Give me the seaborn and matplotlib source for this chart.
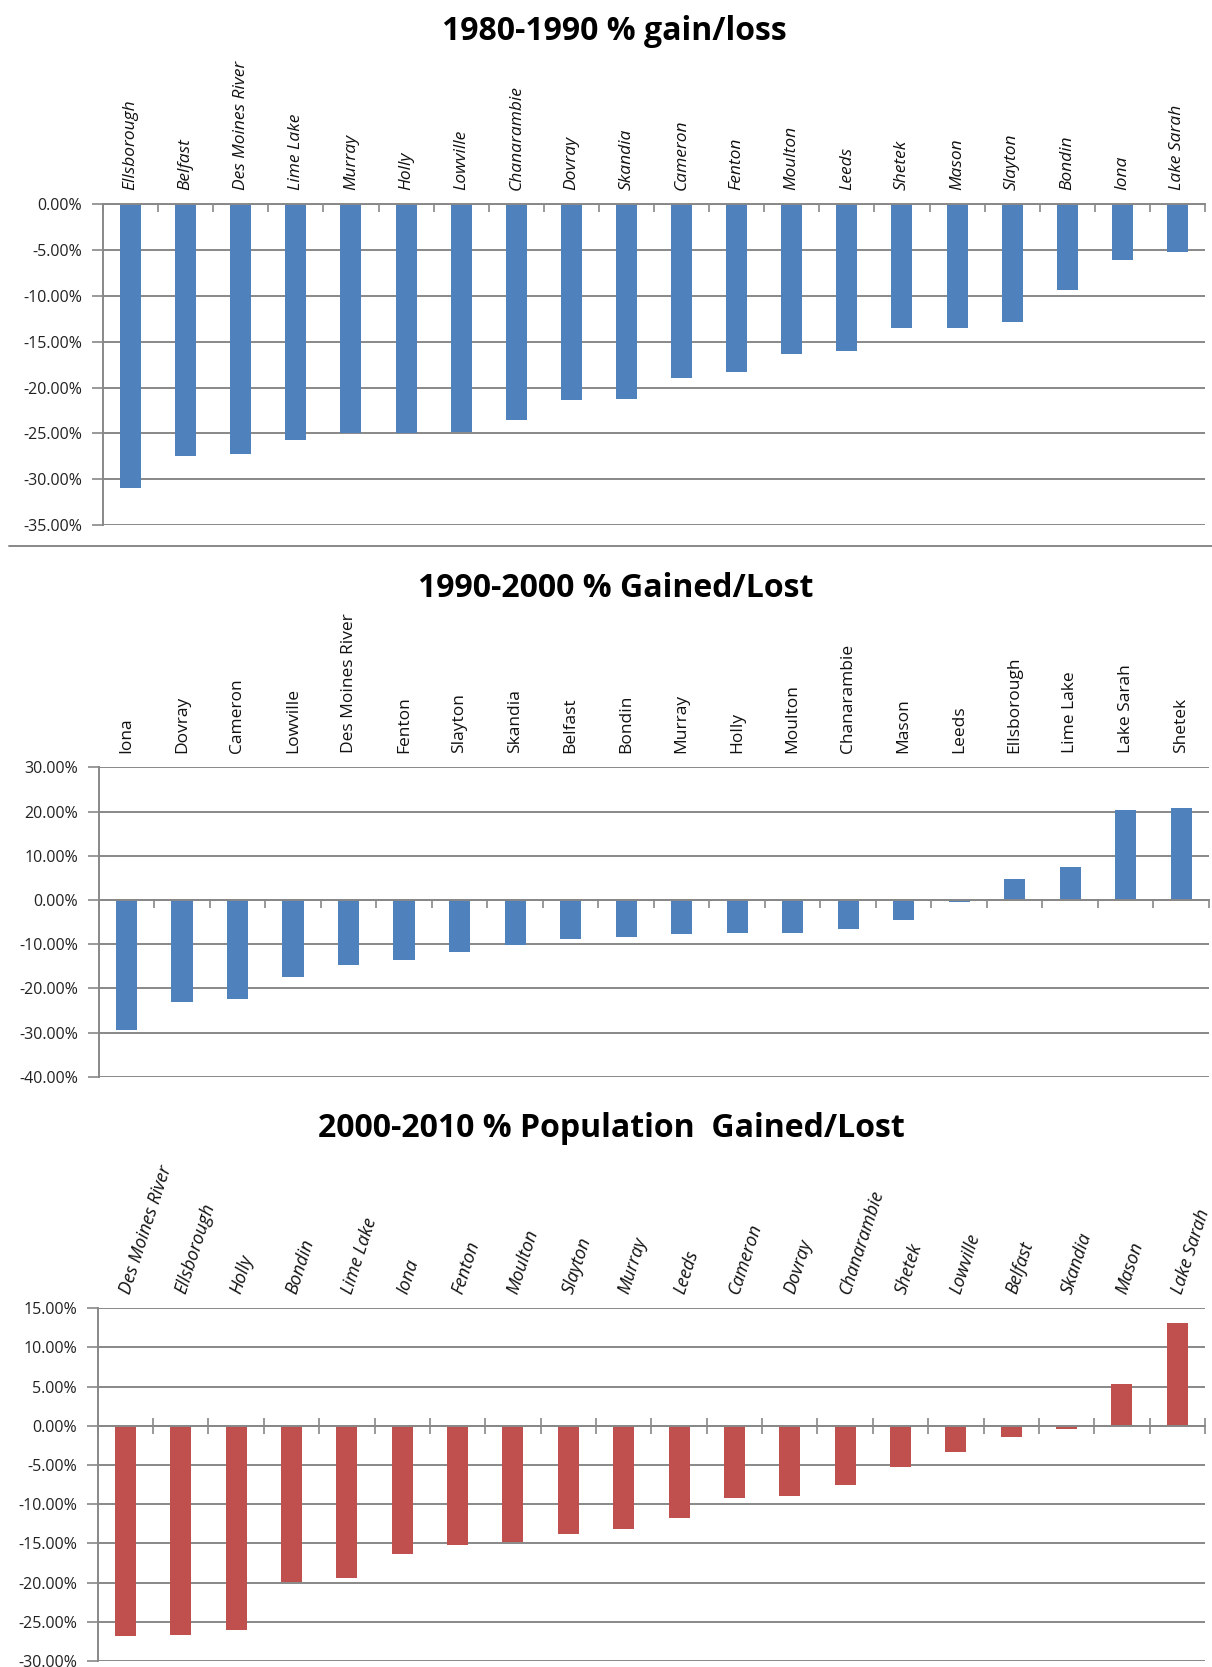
import numpy as np
import pandas as pd
import seaborn as sns
import matplotlib.pyplot as plt
from matplotlib.ticker import FuncFormatter, MultipleLocator, FixedLocator

# 1980-1990 % gain/loss
towns_80s = ['Ellsborough', 'Belfast', 'Des Moines River', 'Lime Lake', 'Murray', 'Holly',
             'Lowville', 'Chanarambie', 'Dovray', 'Skandia', 'Cameron', 'Fenton', 'Moulton',
             'Leeds', 'Shetek', 'Mason', 'Slayton', 'Bondin', 'Iona', 'Lake Sarah']
change_80s = [-31.0, -27.5, -27.3, -25.7, -25.0, -25.0, -24.8, -23.5, -21.4, -21.3,
              -19.0, -18.3, -16.3, -16.05, -13.55, -13.55, -12.85, -9.3, -6.1, -5.2]

# 1990-2000 % gained/lost
towns_90s = ['Iona', 'Dovray', 'Cameron', 'Lowville', 'Des Moines River', 'Fenton', 'Slayton',
             'Skandia', 'Belfast', 'Bondin', 'Murray', 'Holly', 'Moulton', 'Chanarambie',
             'Mason', 'Leeds', 'Ellsborough', 'Lime Lake', 'Lake Sarah', 'Shetek']
change_90s = [-29.5, -23.1, -22.5, -17.4, -14.8, -13.5, -11.8, -10.1, -8.8, -8.5,
              -7.8, -7.5, -7.5, -6.6, -4.5, -0.5, 4.8, 7.4, 20.4, 20.8]

# 2000-2010 % population gained/lost
towns_00s = ['Des Moines River', 'Ellsborough', 'Holly', 'Bondin', 'Lime Lake', 'Iona', 'Fenton',
             'Moulton', 'Slayton', 'Murray', 'Leeds', 'Cameron', 'Dovray', 'Chanarambie',
             'Shetek', 'Lowville', 'Belfast', 'Skandia', 'Mason', 'Lake Sarah']
change_00s = [-26.85, -26.7, -26.1, -19.95, -19.4, -16.3, -15.2, -14.8, -13.8, -13.1,
              -11.8, -9.25, -8.9, -7.5, -5.3, -3.3, -1.4, -0.45, 5.4, 13.1]

BLUE = '#4F81BD'
RED = '#C0504D'
GRID = '#888888'

sns.set_style('white')
plt.rcParams['font.family'] = ['Open Sans', 'DejaVu Sans']

fig = plt.figure(figsize=(12.12, 16.67), dpi=100)
W, H = 1212, 1667


def panel(box, towns, values, color, lo, hi, step, rot, italic, lsize):
    l, t, r, b = box
    ax = fig.add_axes([l / W, 1 - b / H, (r - l) / W, (b - t) / H])
    df = pd.DataFrame({'town': towns, 'change': values})
    sns.barplot(data=df, x='town', y='change', color=color, saturation=1,
                width=0.38, ax=ax, linewidth=0)
    ax.set_ylim(lo, hi)
    ax.set_xlim(-0.5, len(towns) - 0.5)
    ax.yaxis.set_major_locator(MultipleLocator(step))
    ax.yaxis.set_major_formatter(FuncFormatter(lambda v, p: f'{v:.2f}%'))
    ax.set_xlabel('')
    ax.set_ylabel('')
    ax.grid(axis='y', color=GRID, lw=1.4, zorder=0)
    ax.set_axisbelow(True)
    for s in ['top', 'right']:
        ax.spines[s].set_visible(False)
    ax.spines['left'].set_color(GRID)
    ax.spines['left'].set_linewidth(1.4)
    ax.spines['bottom'].set_position(('data', 0))
    ax.spines['bottom'].set_color(GRID)
    ax.spines['bottom'].set_linewidth(1.4)
    # category boundary ticks on the zero line
    ax.xaxis.set_minor_locator(FixedLocator(np.arange(len(towns) + 1) - 0.5))
    ax.tick_params(axis='x', which='major', bottom=False, top=False,
                   labelbottom=False, labeltop=True, pad=7, labelsize=lsize, labelcolor='#111111')
    ax.tick_params(axis='x', which='minor', bottom=True, top=False, length=6 if rot == 90 else 12,
                   direction='out' if rot == 90 else 'inout', color=GRID, width=1.2)
    ax.tick_params(axis='y', left=True, length=8, color=GRID, width=1.2, pad=7,
                   labelsize=11.5, labelcolor='#222222')
    style = 'italic' if italic else 'normal'
    if rot == 90:
        plt.setp(ax.get_xticklabels(), rotation=90, ha='center', va='bottom', style=style)
    else:
        plt.setp(ax.get_xticklabels(), rotation=rot, ha='left', va='center',
                 rotation_mode='anchor', style=style)
    return ax


panel((103, 204.3, 1205, 525), towns_80s, change_80s, BLUE, -35, 0, 5, 90, True, 12.5)
panel((98.7, 767.3, 1209, 1076.7), towns_90s, change_90s, BLUE, -40, 30, 10, 90, False, 12.5)
panel((97.7, 1308.3, 1205, 1661), towns_00s, change_00s, RED, -30, 15, 5, 72, True, 13)

fig.text(614 / W, 1 - 40 / H, '1980-1990 % gain/loss', ha='center', va='baseline',
         fontsize=23, weight='bold', color='black')
fig.text(616 / W, 1 - 597 / H, '1990-2000 % Gained/Lost', ha='center', va='baseline',
         fontsize=23, weight='bold', color='black')
fig.text(611 / W, 1 - 1137 / H, '2000-2010 % Population  Gained/Lost', ha='center',
         va='baseline', fontsize=23, weight='bold', color='black')

# border line under the first chart
fig.add_artist(plt.Line2D([9 / W, 1], [1 - 546 / H, 1 - 546 / H], color=GRID, lw=1.4))

fig.savefig('out.png', dpi=100)
